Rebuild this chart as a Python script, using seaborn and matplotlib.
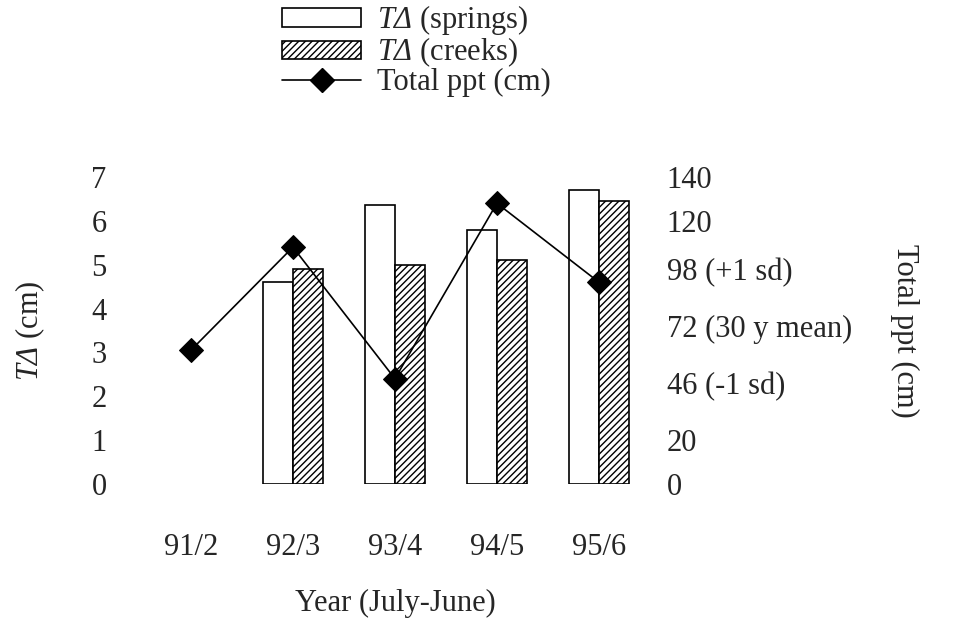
import numpy as np
import pandas as pd
import seaborn as sns
import matplotlib.pyplot as plt
from matplotlib.patches import Patch
from matplotlib.lines import Line2D

# data
years = ['91/2', '92/3', '93/4', '94/5', '95/6']
springs = [np.nan, 4.6, 6.35, 5.8, 6.7]
creeks = [np.nan, 4.9, 5.0, 5.1, 6.45]
total_ppt = [61, 108, 48, 128, 92]
ppt_ticks = [0, 20, 46, 72, 98, 120, 140]
ppt_tick_labels = ['0', '20', '46 (-1 sd)', '72 (30 y mean)', '98 (+1 sd)', '120', '140']

df = pd.DataFrame({
    'year': years * 2,
    'kind': ['springs'] * len(years) + ['creeks'] * len(years),
    'td': springs + creeks,
})

sns.set_style('white')
plt.rcParams['font.family'] = ['Liberation Serif', 'DejaVu Serif']
# math mode only used for the italic "TΔ"
plt.rcParams['mathtext.fontset'] = 'custom'
plt.rcParams['mathtext.rm'] = 'Liberation Serif:italic'
plt.rcParams['mathtext.it'] = 'Liberation Serif:italic'
plt.rcParams['hatch.linewidth'] = 1.0
fs = 22

fig = plt.figure(figsize=(9.65, 6.24), dpi=100)
ax = fig.add_axes([0.145, 0.2244, 0.5285, 0.492])

sns.barplot(data=df, x='year', y='td', hue='kind', order=years,
            hue_order=['springs', 'creeks'], width=0.58, ax=ax,
            legend=False, errorbar=None, palette=['white', 'white'],
            edgecolor='black', linewidth=1.2)
for bar in ax.containers[1]:
    bar.set_hatch('/////')

ax.set_xlim(-0.5, 4.5)
ax.set_ylim(0, 7)
ax.set_yticks(range(8))
ax.tick_params(axis='y', labelsize=fs, length=0, pad=24)
ax.tick_params(axis='x', labelsize=fs, length=0, pad=35)
ax.set_xlabel('Year (July-June)', fontsize=fs, va='center')
ax.xaxis.set_label_coords(0.5, -0.39)
ax.set_ylabel(r'$TΔ$ (cm)', fontsize=fs, va='center')
ax.yaxis.set_label_coords(-0.216, 0.5)

ax2 = ax.twinx()
sns.lineplot(x=np.arange(len(years)), y=total_ppt, ax=ax2, color='black',
             linewidth=1.2, marker='D', markersize=12, markeredgecolor='black')
ax2.set_ylim(0, 140)
ax2.set_yticks(ppt_ticks)
ax2.set_yticklabels(ppt_tick_labels)
ax2.tick_params(axis='y', labelsize=fs, length=0, pad=12)
ax2.set_ylabel('Total ppt (cm)', fontsize=fs, rotation=270, va='center')
ax2.yaxis.set_label_coords(1.5, 0.5)

for a in (ax, ax2):
    for s in a.spines.values():
        s.set_visible(False)

handles = [
    Patch(facecolor='white', edgecolor='black', linewidth=1.2),
    Patch(facecolor='white', edgecolor='black', linewidth=1.2, hatch='/////'),
    Line2D([0], [0], color='black', linewidth=1.2, marker='D', markersize=12),
]
labels = [r'$TΔ$ (springs)', r'$TΔ$ (creeks)', 'Total ppt (cm)']
fig.legend(handles, labels, loc='upper left', bbox_to_anchor=(0.273, 1.024),
           frameon=False, fontsize=fs, handlelength=2.6, handleheight=0.55,
           handletextpad=0.5, labelspacing=-0.05, borderpad=0.1)

fig.savefig('out.png', dpi=100)
